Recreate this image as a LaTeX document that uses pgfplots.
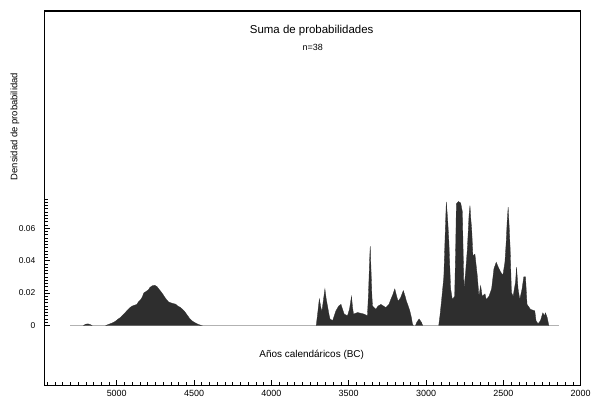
\documentclass[border=0pt]{standalone}
\usepackage{pgfplots}
\pgfplotsset{compat=1.18}
\usepackage{fontspec}
\setmainfont{Liberation Sans}

\definecolor{fillgray}{HTML}{2E2E2E}

\begin{document}
\begin{tikzpicture}
\begin{axis}[
    scale only axis,
    width=538pt, height=376pt,
    x dir=reverse,
    xmin=2000, xmax=5465,
    ymin=-0.037, ymax=0.194,
    xtick={2000,2500,3000,3500,4000,4500,5000},
    xticklabels={2000,2500,3000,3500,4000,4500,5000},
    minor xtick={2050,2100,...,5450},
    ytick={0,0.02,0.04,0.06},
    yticklabels={0,0.02,0.04,0.06},
    minor ytick={0.002,0.004,0.006,0.008,0.010,0.012,0.014,0.016,0.018,
      0.022,0.024,0.026,0.028,0.030,0.032,0.034,0.036,0.038,
      0.042,0.044,0.046,0.048,0.050,0.052,0.054,0.056,0.058,
      0.062,0.064,0.066,0.068,0.070,0.072,0.074,0.076,0.078},
    tick align=inside,
    xtick pos=bottom, ytick pos=left,
    major tick length=5pt, minor tick length=3pt,
    tick style={black, line width=0.6pt},
    axis line style={line width=1.2pt},
    xticklabel style={font=\fontsize{9}{10}\selectfont, yshift=-1pt},
    yticklabel style={font=\fontsize{8.5}{9}\selectfont, xshift=-6pt},
    clip=false,
]
% baseline
\addplot[gray!60, line width=0.6pt] coordinates {(5300,0)(2140,0)};

\addplot[fill=fillgray, draw=fillgray, line width=0.3pt] coordinates {
(5215,0)(5200,0.0008)(5185,0.001)(5170,0.0005)(5160,0)
} \closedcycle;

\addplot[fill=fillgray, draw=fillgray, line width=0.3pt] coordinates {
(5070,0)(5050,0.0008)(5030,0.0015)(5010,0.0025)(4990,0.004)(4975,0.005)(4960,0.0065)
(4945,0.008)(4930,0.0095)(4915,0.011)(4900,0.012)(4885,0.0125)(4870,0.013)(4860,0.0145)
(4845,0.016)(4835,0.0175)(4825,0.020)(4810,0.021)(4795,0.022)(4785,0.0235)(4770,0.0245)
(4755,0.0248)(4740,0.024)(4728,0.0225)(4715,0.021)(4700,0.019)(4690,0.0175)(4678,0.016)
(4665,0.0145)(4650,0.014)(4635,0.0135)(4620,0.0132)(4605,0.012)(4590,0.0112)(4575,0.010)
(4560,0.0085)(4545,0.0065)(4530,0.0045)(4515,0.003)(4500,0.002)(4480,0.001)(4465,0.0004)
(4450,0)
} \closedcycle;

\addplot[fill=fillgray, draw=fillgray, line width=0.3pt] coordinates {
(3710,0)(3700,0.008)(3690,0.0164)(3680,0.011)(3673,0.009)(3663,0.016)(3654,0.0226)
(3645,0.016)(3637,0.012)(3628,0.007)(3621,0.004)(3604,0.003)(3590,0.007)(3583,0.009)
(3565,0.012)(3550,0.013)(3540,0.010)(3529,0.007)(3508,0.006)(3495,0.010)(3482,0.018)
(3475,0.011)(3469,0.007)(3443,0.008)(3420,0.0075)(3400,0.007)(3379,0.006)(3372,0.02)
(3365,0.04)(3361,0.049)(3356,0.035)(3350,0.018)(3346,0.012)(3325,0.010)(3310,0.012)
(3292,0.013)(3275,0.012)(3260,0.011)(3240,0.013)(3228,0.016)(3215,0.019)(3202,0.0226)
(3190,0.018)(3181,0.015)(3165,0.017)(3147,0.0215)(3135,0.018)(3127,0.015)(3115,0.012)
(3105,0.009)(3095,0.005)(3088,0.001)(3082,0)
} \closedcycle;

\addplot[fill=fillgray, draw=fillgray, line width=0.3pt] coordinates {
(3068,0)(3060,0.002)(3045,0.004)(3030,0.002)(3022,0)
} \closedcycle;

\addplot[fill=fillgray, draw=fillgray, line width=0.3pt] coordinates {
(2918,0)(2910,0.006)(2899,0.016)(2885,0.03)(2875,0.06)(2869,0.0763)(2860,0.065)
(2852,0.051)(2846,0.035)(2841,0.0226)(2830,0.016)(2815,0.018)(2808,0.05)(2804,0.075)
(2790,0.0765)(2776,0.0755)(2765,0.070)(2760,0.045)(2755,0.0226)(2744,0.033)(2733,0.047)
(2722,0.068)(2716,0.074)(2710,0.065)(2705,0.0595)(2697,0.043)(2684,0.044)(2669,0.031)
(2658,0.018)(2647,0.0246)(2637,0.018)(2619,0.0195)(2611,0.016)(2593,0.018)(2576,0.0226)
(2561,0.035)(2546,0.039)(2533,0.036)(2518,0.033)(2503,0.031)(2490,0.039)(2482,0.051)
(2475,0.065)(2469,0.073)(2462,0.06)(2456,0.047)(2448,0.0205)(2437,0.018)(2421,0.027)
(2415,0.036)(2405,0.0226)(2394,0.016)(2379,0.0226)(2368,0.030)(2357,0.030)(2347,0.013)
(2325,0.010)(2297,0.009)(2289,0.003)(2276,0.001)(2260,0.003)(2245,0.0078)(2234,0.006)
(2228,0.0078)(2217,0.005)(2206,0)
} \closedcycle;

\node[font=\fontsize{11.5}{13}\selectfont] at (rel axis cs:0.498,0.949) {Suma de probabilidades};
\node[font=\fontsize{9}{10}\selectfont] at (rel axis cs:0.500,0.902) {n=38};
\node[font=\fontsize{10}{11}\selectfont] at (rel axis cs:0.498,0.0824) {Años calendáricos (BC)};
\node[font=\fontsize{9.5}{11}\selectfont, rotate=90] at ([xshift=-30pt]rel axis cs:0,0.691) {Densidad de probabilidad};
\end{axis}
\path ([shift={(-45pt,-14pt)}]current axis.south west) rectangle ([shift={(11pt,11pt)}]current axis.north east);
\end{tikzpicture}
\end{document}
